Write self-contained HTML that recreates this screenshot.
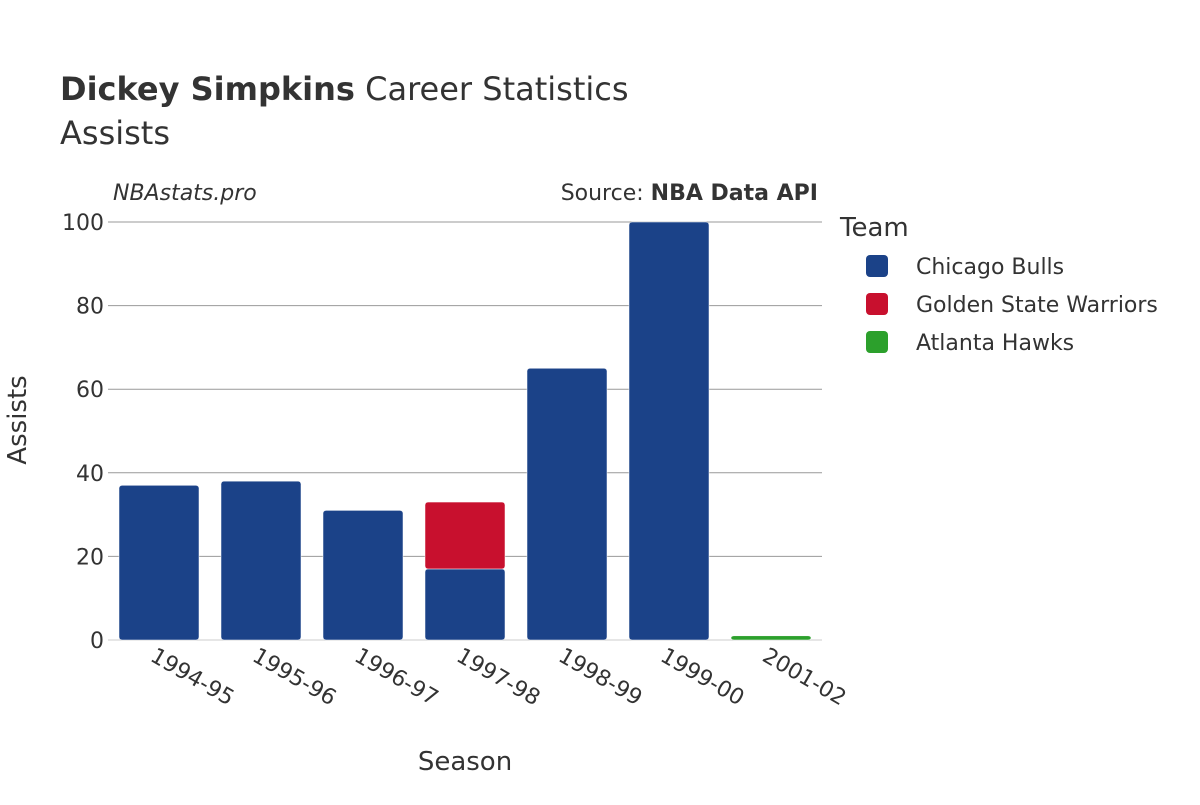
<!DOCTYPE html>
<html><head><meta charset="utf-8"><style>
body{margin:0;background:#fff;}
svg text{font-family:"DejaVu Sans","Liberation Sans",sans-serif;fill:#333;}
</style></head><body>
<svg id="chart" width="1200" height="800" viewBox="0 0 1200 800">
<text x="60" y="100" font-size="32"><tspan font-weight="bold">Dickey Simpkins</tspan> Career Statistics</text>
<text x="60" y="144" font-size="32">Assists</text>
<text x="113" y="200" font-size="22" font-style="italic">NBAstats.pro</text>
<text x="818" y="200" font-size="22" text-anchor="end">Source: <tspan font-weight="bold">NBA Data API</tspan></text>
<g id="grid"></g>
<g id="bars"></g>
<g id="xlabels"></g>
<text x="465" y="770" font-size="26" text-anchor="middle">Season</text>
<text transform="translate(26,420) rotate(-90)" font-size="26" text-anchor="middle">Assists</text>
<text x="840" y="236" font-size="26">Team</text>
<g id="legend"></g>
</svg>
<script>
const seasons=["1994-95","1995-96","1996-97","1997-98","1998-99","1999-00","2001-02"];
const teams=["Chicago Bulls","Golden State Warriors","Atlanta Hawks"];
const colors=["#1b4288","#c8102e","#2ca02c"];
const bulls=[37,38,31,17,65,100,0];
const warriors=[0,0,0,16,0,0,0];
const hawks=[0,0,0,0,0,0,1];
const yTicks=[0,20,40,60,80,100];
const series=[bulls,warriors,hawks];
const NS="http://www.w3.org/2000/svg";
const L=108,R=822,Y0=640,Y1=222,YMAX=100;
const y=v=>Y0-(v/YMAX)*(Y0-Y1);
const band=(R-L)/seasons.length;
const xc=i=>L+band*(i+0.5);
function mk(t,a,p){const e=document.createElementNS(NS,t);for(const k in a)e.setAttribute(k,a[k]);p.appendChild(e);return e;}
const grid=document.getElementById('grid');
yTicks.forEach(t=>{
  const l=mk('line',{x1:L,x2:R,y1:y(t),y2:y(t),stroke:t===0?'#e6e6e6':'#999','stroke-width':t===0?2:1},grid);
  
  
  const tx=mk('text',{x:L-4,y:y(t)+8,'font-size':22,'text-anchor':'end'},grid);
  tx.textContent=t;
  
  
});
const bars=document.getElementById('bars');
const bw=80;
seasons.forEach((s,i)=>{
  let base=0;
  series.forEach((ser,k)=>{
    const v=ser[i];if(!v)return;
    const r=mk('rect',{x:xc(i)-bw/2,y:y(base+v),width:bw,height:y(base)-y(base+v),fill:colors[k],rx:3,stroke:'#fff','stroke-width':0.5},bars);
    
    
    base+=v;
  });
  const tx=mk('text',{transform:`translate(${xc(i)-10},${660}) rotate(30)`,'font-size':22},document.getElementById('xlabels'));
  tx.textContent=s;
  
  
});
const lg=document.getElementById('legend');
teams.forEach((t,k)=>{
  const g=mk('g',{},lg);
  
  
  mk('rect',{x:866,y:255+k*38,width:22,height:22,rx:4,fill:colors[k]},g);
  const tx=mk('text',{x:916,y:274+k*38,'font-size':22},g);
  tx.textContent=t;
});
</script>
</body></html>
